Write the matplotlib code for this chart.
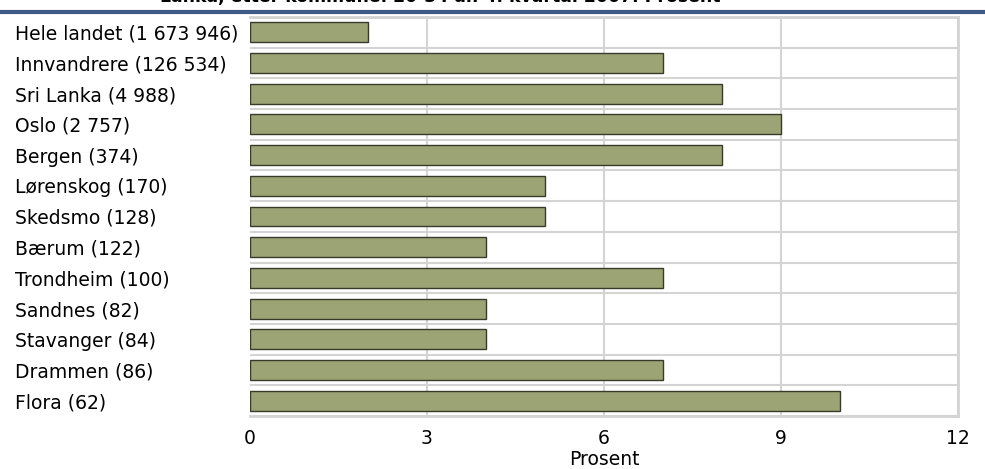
import matplotlib.pyplot as plt
from matplotlib.lines import Line2D

kategorier = ['Hele landet (1 673 946)', 'Innvandrere (126 534)', 'Sri Lanka (4 988)',
              'Oslo (2 757)', 'Bergen (374)', 'Lørenskog (170)', 'Skedsmo (128)',
              'Bærum (122)', 'Trondheim (100)', 'Sandnes (82)', 'Stavanger (84)',
              'Drammen (86)', 'Flora (62)']
prosent = [2, 7, 8, 9, 8, 5, 5, 4, 7, 4, 4, 7, 10]
x_ticks = [0, 3, 6, 9, 12]
tittel = 'Lanka, etter kommune. 20-34 år. 4. kvartal 2007. Prosent'

plt.rcParams['font.family'] = ['DejaVu Sans']

fig = plt.figure(figsize=(9.85, 4.69), dpi=100)
ax = fig.add_axes([250 / 985, 1 - 416 / 469, 708 / 985, 399 / 469])

n = len(kategorier)
y = list(range(n))
ax.barh(y, prosent, height=0.65, color='#9ca375', edgecolor='#3a3a2a', linewidth=1.0, zorder=3)

ax.set_xlim(0, 12)
ax.set_ylim(n - 0.5, -0.5)
ax.set_xticks(x_ticks)
ax.set_xticklabels([str(v) for v in x_ticks], fontsize=13.5)
ax.set_yticks(y)
ax.set_yticklabels(kategorier, fontsize=13.5, ha='left')
ax.tick_params(length=0)
ax.tick_params(axis='y', pad=(250 - 15) * 0.72)
ax.tick_params(axis='x', pad=9)

# rutenett
for v in x_ticks[1:]:
    ax.axvline(v, color='#d4d4d4', linewidth=1.5, zorder=1)
for i in range(n):
    ax.axhline(i + 0.5, color='#d4d4d4', linewidth=1.5, zorder=1)
ax.axhline(-0.5, color='#d4d4d4', linewidth=2, zorder=1)

for side in ['top', 'right', 'bottom']:
    ax.spines[side].set_color('#d4d4d4')
    ax.spines[side].set_linewidth(2)
ax.spines['left'].set_visible(False)

ax.set_xlabel('Prosent', fontsize=13.5, labelpad=2)

fig.text(160 / 985, 1 - 6 / 469, tittel, fontsize=12.4, fontweight='bold',
         va='bottom', ha='left')
fig.add_artist(Line2D([0, 1], [1 - 12.5 / 469, 1 - 12.5 / 469], color='#3f5a85', linewidth=3))

fig.savefig('out.png', dpi=100)
